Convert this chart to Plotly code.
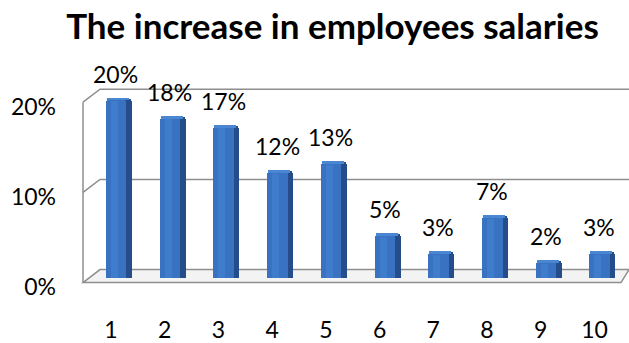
import plotly.graph_objects as go

# --- chart data -------------------------------------------------------------
categories = [1, 2, 3, 4, 5, 6, 7, 8, 9, 10]
increase_pct = [20, 18, 17, 12, 13, 5, 3, 7, 2, 3]
tick_values = [0, 10, 20]
tick_labels = ["0%", "10%", "20%"]
title_text = "The increase in employees salaries"

# --- canvas / scale constants (pixels) -------------------------------------
W, H = 629, 343
M_L, M_R, M_T, M_B = 83, 0, 60, 43
PX_PER_CAT = 53.73          # horizontal spacing between columns
PX_PER_PCT = 9.25           # vertical pixels per percentage point
FIRST_CENTER = 118.9        # pixel x of first column centre
ZERO_Y = 283.5              # pixel y of the 0 level in the column plane

plot_w = W - M_L - M_R
plot_h = H - M_T - M_B
x_lo = categories[0] - (FIRST_CENTER - M_L) / PX_PER_CAT
x_hi = x_lo + plot_w / PX_PER_CAT
y_hi = (ZERO_Y - M_T) / PX_PER_PCT
y_lo = y_hi - plot_h / PX_PER_PCT


def dx(px):
    return px / PX_PER_CAT


def dy(px):
    return px / PX_PER_PCT


def paper_x(px):
    return (px - M_L) / plot_w


# 3-D box geometry (pixel offsets relative to the column plane)
FRONT_DY = -4.8     # front edge sits a little lower
BACK_DY = 8.5       # back wall sits a little higher
BACK_X = 100        # pixel x where the back wall starts
FLOOR_FRONT_END = 621
GRID = "#8e8e8e"
LABEL_FONT = dict(family="Lato", size=23, color="#000000")

fig = go.Figure()

# columns: dark side face, main front face, light top bevel, soft highlight
fig.add_trace(go.Bar(
    x=categories, y=increase_pct,
    offset=dx(-13), width=dx(26),
    marker=dict(color="#244d8a", cornerradius=5, line_width=0),
    hoverinfo="skip", showlegend=False,
))
fig.add_trace(go.Bar(
    x=categories, y=increase_pct,
    offset=dx(-13), width=dx(20.5),
    marker=dict(color="#3872c1", cornerradius=5, line_width=0),
    hoverinfo="skip", showlegend=False,
))
fig.add_trace(go.Bar(
    x=categories, y=[dy(3)] * len(categories),
    base=[v - dy(3) for v in increase_pct],
    offset=dx(-12), width=dx(22),
    marker=dict(color="#4b86d3", cornerradius=3, line_width=0),
    hoverinfo="skip", showlegend=False,
))
fig.add_trace(go.Bar(
    x=categories, y=[v - dy(4) for v in increase_pct],
    offset=dx(-8), width=dx(7),
    marker=dict(color="#3f7ccb", line_width=0),
    hoverinfo="skip", showlegend=False,
))

shapes = []
# floor slab
f0 = dy(FRONT_DY)
b0 = dy(BACK_DY)
shapes.append(dict(
    type="path", xref="paper", yref="y",
    path=(f"M 0 {f0} L {paper_x(BACK_X)} {b0} L {paper_x(W)} {b0} "
          f"L {paper_x(FLOOR_FRONT_END)} {f0} Z"),
    fillcolor="#f3f3f3", line=dict(color=GRID, width=1.5), layer="below",
))
# left wall edge and back-wall gridlines
shapes.append(dict(
    type="line", xref="paper", yref="y",
    x0=0, x1=0, y0=f0, y1=tick_values[-1] + dy(FRONT_DY),
    line=dict(color=GRID, width=1.5), layer="below",
))
for v in tick_values[1:]:
    shapes.append(dict(
        type="path", xref="paper", yref="y",
        path=(f"M 0 {v + dy(FRONT_DY)} L {paper_x(BACK_X)} {v + dy(BACK_DY)} "
              f"L {paper_x(W)} {v + dy(BACK_DY)}"),
        line=dict(color=GRID, width=1.5), layer="below",
    ))

# value labels above columns
annotations = []
for c, v in zip(categories, increase_pct):
    annotations.append(dict(
        x=c, y=v, xref="x", yref="y", text=f"{v}%", showarrow=False,
        xshift=-3, yshift=24, yanchor="middle", font=LABEL_FONT,
    ))

fig.update_layout(
    width=W, height=H,
    margin=dict(l=M_L, r=M_R, t=M_T, b=M_B, pad=0),
    paper_bgcolor="white", plot_bgcolor="white",
    barmode="overlay", bargap=0,
    title=dict(
        text=f"<b>{title_text}</b>", x=332.5 / W, xanchor="center",
        xref="container", yref="container", y=1 - 27 / H, yanchor="middle",
        font=dict(family="Lato", size=35, color="#000000"),
    ),
    xaxis=dict(
        range=[x_lo, x_hi], tickmode="array", tickvals=categories,
        ticktext=[str(c) for c in categories], showgrid=False, zeroline=False,
        showline=False, ticks="", ticklabelstandoff=20, ticklabelshift=-8,
        tickfont=LABEL_FONT,
    ),
    yaxis=dict(
        range=[y_lo, y_hi], tickmode="array", tickvals=tick_values,
        ticktext=tick_labels, showgrid=False, zeroline=False, showline=False,
        ticks="", ticklabelstandoff=26, ticklabelshift=9,
        tickfont=LABEL_FONT,
    ),
    shapes=shapes, annotations=annotations,
)

fig.write_html("out.html")
